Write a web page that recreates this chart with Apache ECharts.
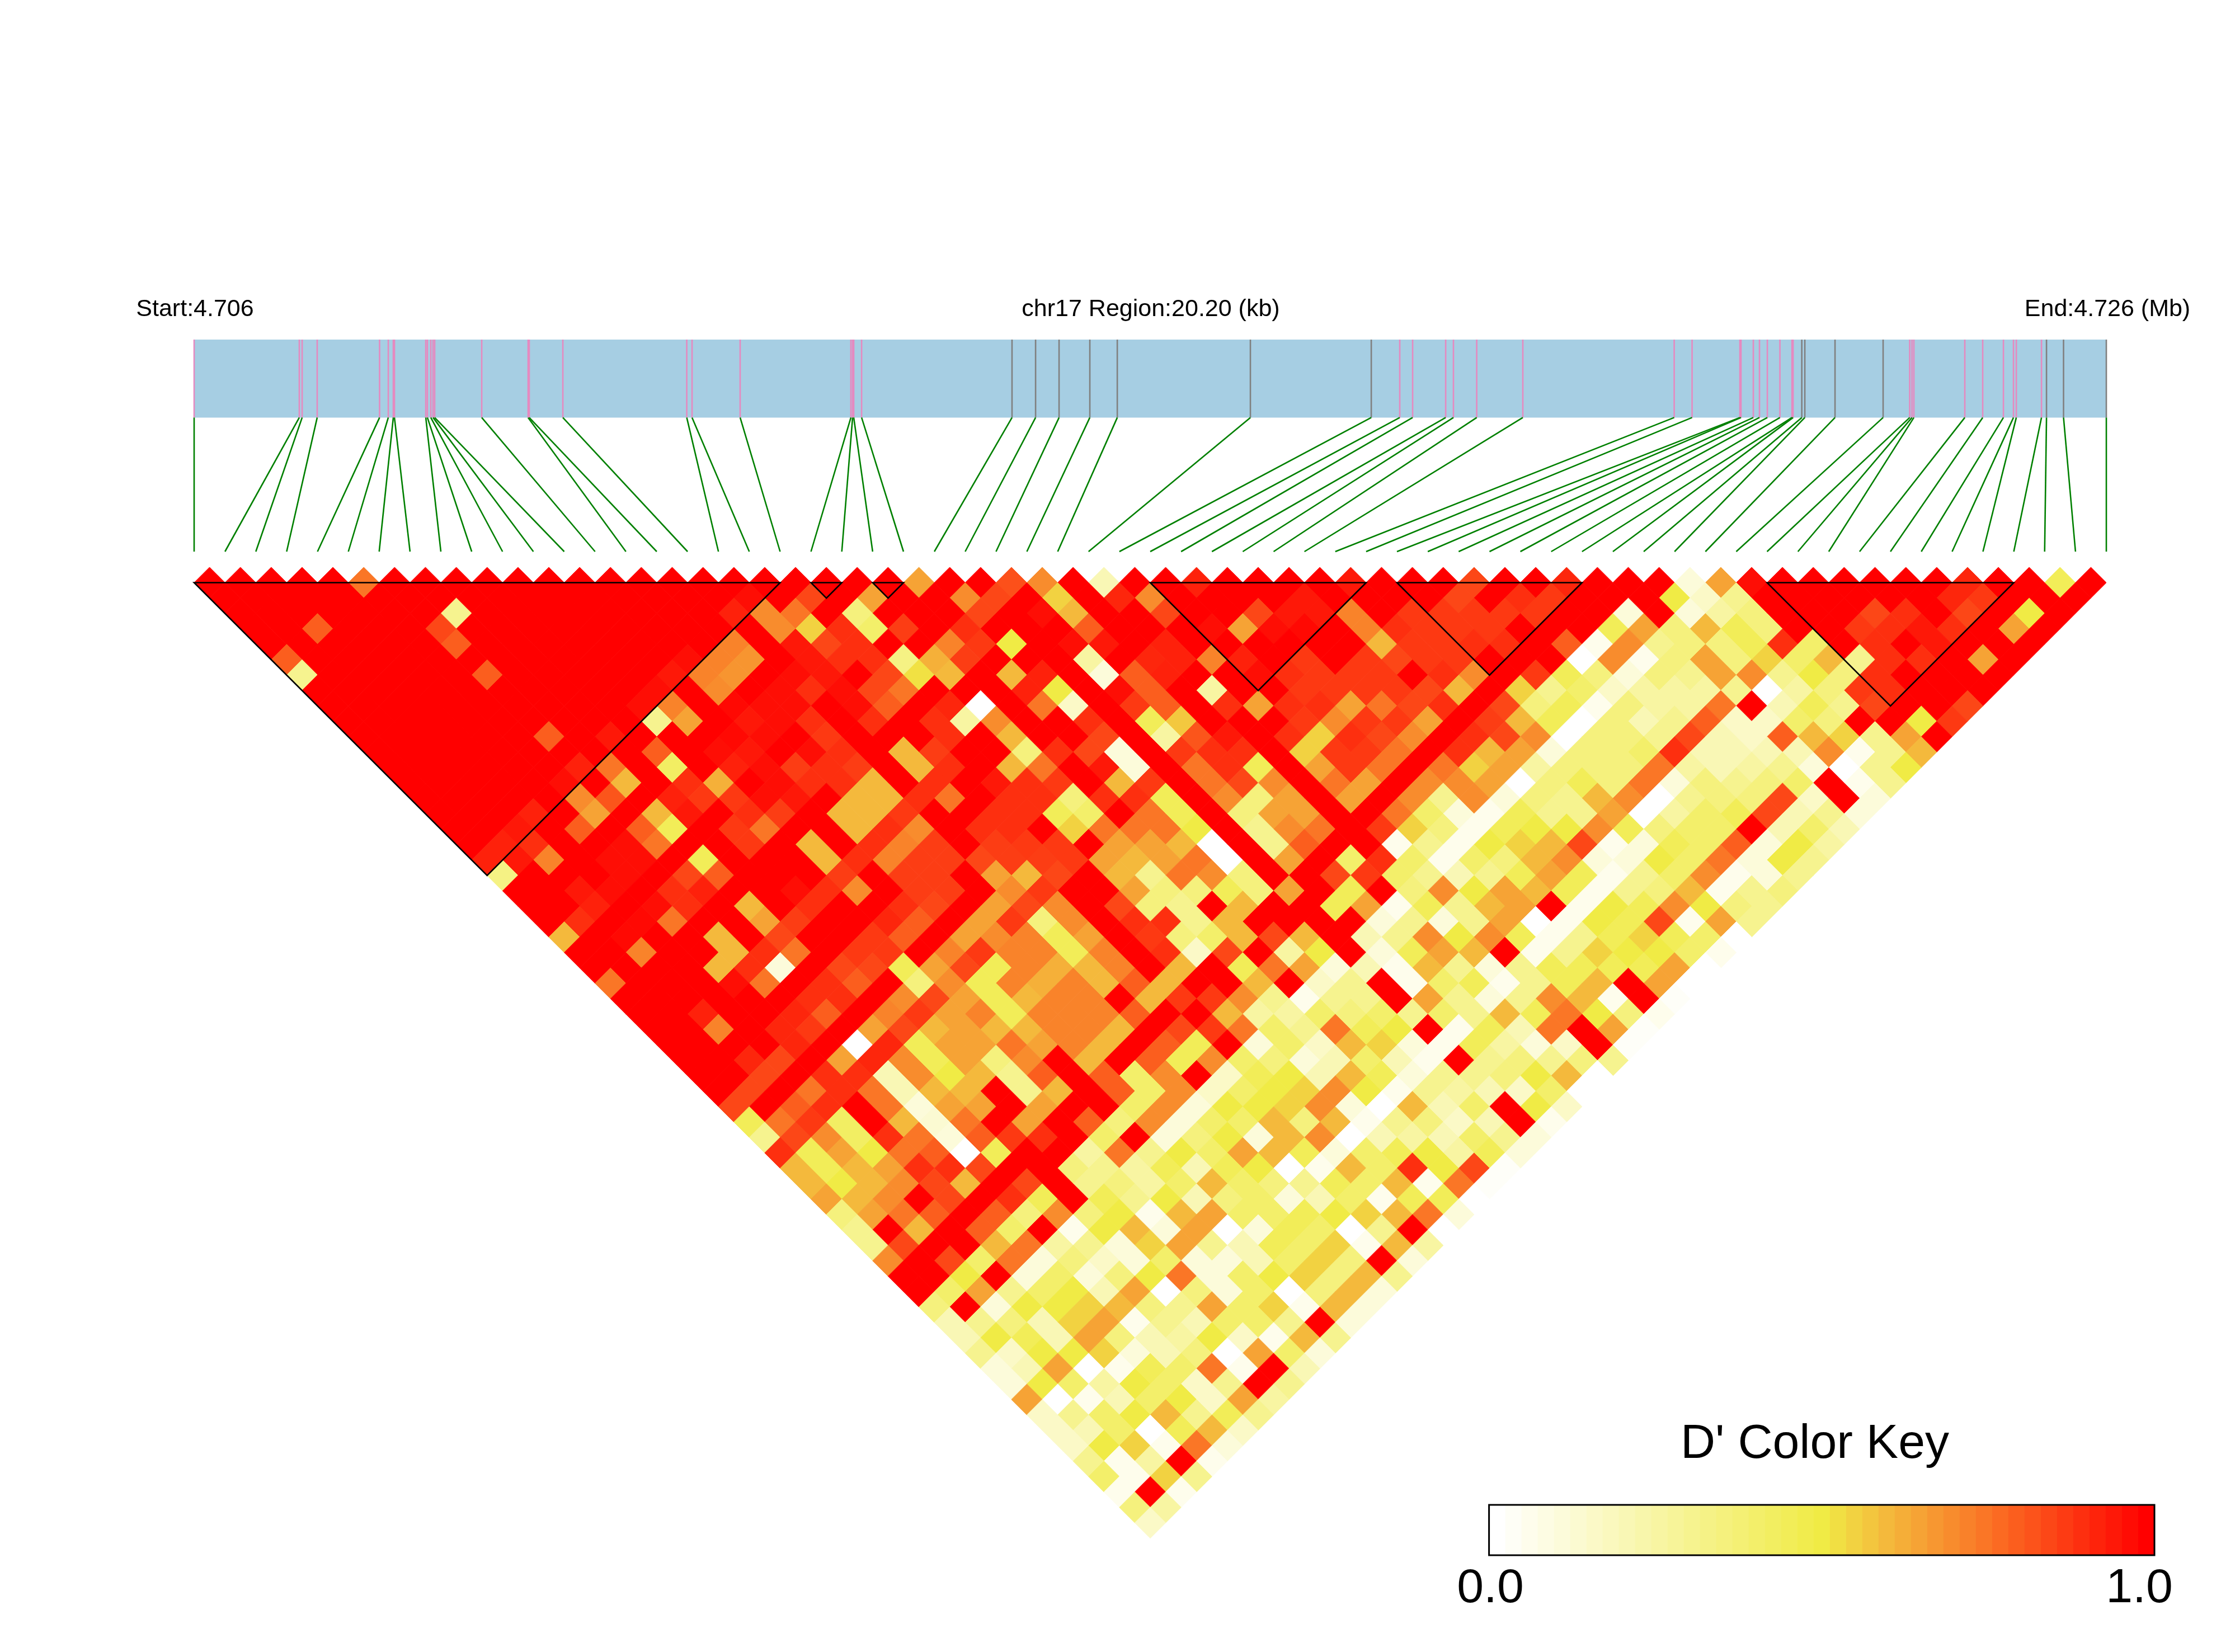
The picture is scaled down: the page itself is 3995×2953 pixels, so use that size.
<!DOCTYPE html>
<html><head><meta charset="utf-8">
<style>html,body{margin:0;padding:0;background:#fff}#c{width:3995px;height:2953px}</style>
<script src="https://cdn.jsdelivr.net/npm/echarts@6/dist/echarts.min.js"></script>
</head><body><div id="c"></div>
<script>
// D' x 10 for each SNP pair, one array per distance (j-i), ordered by first SNP i
const d01=[10,10,10,10,10,7.5,10,10,10,10,10,10,10,10,10,10,10,10,10,10,10,10,10,6.5,10,10,8.3,7,10,2,10,10,9.3,10,10,10,10,9.5,10,10,10,8.5,10,10,9.2,10,10,10,1,6.5,9.7,10,10,10,10,10,10,9.2,10,10,4.5,10];
const d02=[10,10,10,10,10,10,10,10,10,10,10,10,10,10,10,10,10,9.7,10,8.5,10,6.5,10,10,7,8.5,10,5.5,10,9.2,7,10,10,10,10,9.5,10,10,10,10,8.5,10,9,8.8,10,10,10,5,1.5,3,10,10,10,10,10,10,9.2,8.8,10,10,10];
const d03=[10,10,10,10,10,10,10,3,10,10,10,10,10,10,10,10,9.3,7,7.5,10,3.5,10,10,10,8.5,10,9.7,6,10,10,8.5,10,10,8.5,9.5,9.5,7.2,10,8.8,8.8,8.8,8.8,8.8,10,10,1,10,1,2.5,3.5,10,10,10,8.5,9,10,8.5,10,5,10];
const d04=[10,10,8,10,10,10,8.5,10,10,10,10,10,10,10,10,10,10,7,5.5,9,4,8.7,10,9,10,10,10,8,10,10,10,9.7,6.5,9.7,9.8,10,7.2,9,8.8,8.8,8.8,10,10,10,4.5,6.5,3.5,6,4.5,3.5,10,10,8.8,9,9.5,9,10,6.5,10];
const d05=[10,10,10,10,10,10,8,10,10,10,10,10,10,10,10,7.2,10,9.5,8.5,9,10,10,7.2,8.8,5,10,9.7,9.5,10,9.3,10,10,10,10,10,10,6,8.8,8.8,9,9,10,8,.5,7,3,3.5,3.5,4.5,9,4,10,9,10,9.5,10,10,10];
const d06=[8,10,10,10,10,10,10,10,10,10,10,10,10,9.7,7.2,6.8,10,9.5,9,9,3.3,6.2,8.7,10,10,10,2.5,10,9.2,9.3,7.2,9.3,10,8.8,10,8.8,8.5,8.8,8.8,10,10,10,0,7,.5,3.5,6.5,3.5,5.5,4,6,3,9,9,10,6.5,10];
const d07=[3,10,10,10,10,10,8,10,10,10,10,10,9.5,7.2,6.8,10,9.7,9.5,10,8.5,5.2,6,10,6,9.3,10,1,8,9.3,10,10,9.7,9,8.8,8.8,8.8,10,9,7,10,8.8,4.5,3.5,1,3.5,3,6.5,7,3,5,3.5,9,10,10,10,10];
const d08=[10,10,10,10,10,10,10,10,10,10,10,9.7,10,7,10,9.7,9,9.7,8.5,7.5,10,10,10,9.3,5,10,9.7,8,10,2.5,10,10,8.8,8.8,8.8,8.8,8.5,6,10,5.5,3,4,1.5,2.5,2.5,2.5,3,0,2.5,3.5,8.8,9,10,10,10];
const d09=[10,10,10,10,10,10,10,10,10,10,9.7,7.2,10,9.8,9.7,9.7,10,9.7,8,10,9.2,0,10,7.5,1.5,10,8.8,8,10,9,6.5,9,9,6.5,7.5,8.5,9,10,8.5,3.5,4.5,.5,3.5,2.5,2.5,7.5,10,2,4.5,3,8.5,10,10,8.5];
const d10=[10,10,10,10,10,10,10,10,10,10,3,6.5,10,9.5,9.7,9,10,9,10,9,2.5,7,10,10,9,10,4.5,5.7,10,10,10,8.8,7,8.8,8.8,6.5,10,8.7,6,4.5,0,3.5,2,3,8,1.5,1.5,4,3.5,10,10,5,8.8];
const d11=[10,10,10,10,10,10,8,10,9.5,10,10,10,9.8,9.7,10,8.8,10,10,10,9,10,6,10,10,8.5,10,2.5,8.2,9.5,10,9,5.5,9,8.5,7,10,9,8.5,7,0,3.5,3.5,3,8.5,2,1.5,8,6,5.5,3,6.5,10];
const d12=[10,10,10,10,10,10,10,10,10,8,10,9.7,9.5,10,9.7,9,10,6,8.7,10,10,3.5,9,8.5,1,10,8.8,9,9,10,5.5,8.8,8.8,7.5,10,9,6,6.5,1,3.5,3.5,4,9,2,2,2,2,7,.5,3,6];
const d13=[10,10,10,10,10,10,9.3,7.5,10,4.2,10,9.3,9.7,8.7,9,8.7,10,6,9,10,6,7.5,10,9.5,1,10,7.5,9,4.5,10,6.5,8.8,7.5,10,7.5,5.5,6.5,2.5,3.5,3.5,3.5,7.5,2.5,2,2.5,3,1,0,3,5];
const d14=[10,10,10,10,10,9.7,10,6,10,9,6.2,10,9.7,9,9,6,10,9,10,9.5,9,8.8,10,6,8.8,10,7.5,8.5,7,10,7.5,6.5,10,7,7,6.5,0,3.5,4.5,3.5,7.5,1,3.5,3,3.5,4,10,.5,3];
const d15=[10,10,10,10,10,7,8.2,10,9.3,8.8,8.8,9.7,9.5,10,6,6,9,7.5,10,9,9,3.5,9,9,4.5,10,7,3.5,6.5,10,6.5,10,7,3,7,1,3.5,3,6,7,0,3,3.5,3.5,8.5,1.5,10,1];
const d16=[10,10,10,9.3,10,6.5,10,6,9.5,10,9,8.7,10,6,6,8.8,10,10,9,9,4.5,4,10,7.5,4.5,10,3.5,6.5,6.5,10,10,7.5,4,1,.5,4.5,3,3,6.5,0,2.5,4,4.5,8.5,2,3,1];
const d17=[10,10,9.5,10,8,10,8,4.5,10,8.8,7.5,10,10,6,9,7,10,9,9,10,5.5,7.5,7.5,7.5,5,10,3,7,7.5,10,8.8,5.5,3.5,.5,4.5,5,5,7,4.5,3.5,4,4,10,2,4,2];
const d18=[10,9.3,9,10,10,9.7,7.5,10,10,8.8,10,6,10,9,7.2,8.7,10,8.7,8.8,8.8,10,6.5,6.5,6,0,10,3,8,10,10,.5,3,.5,5,5.5,6,8.5,.5,1,4.5,4,8,1,5,2.5];
const d19=[9.3,9.5,7.2,10,9.7,9.7,10,4.5,10,10,10,6,9,7.2,8.7,8.7,8.5,8.7,8.7,8.8,6.5,6,6.5,7.5,0,10,6.5,10,4,9,4,.5,4,3.5,6,7,1,1,5,4,7.5,1,5,3];
const d20=[3.3,10,10,10,9.7,10,8.5,8,10,10,10,8.7,10,8.7,8.7,10,6.5,6,8.5,10,6,3,7.5,7,3.5,10,10,8.5,8.8,4,3,2,3,4.5,6.5,4.5,.5,3,4,7,.5,1,3];
const d21=[10,10,9.5,9.7,10,9,9.3,10,10,9.7,9,7,10,8.7,8.7,10,7,8.8,10,10,6.5,3.5,3.5,4.5,3.5,6.5,10,4.5,10,3.5,7,5,6.5,6,4.5,.5,3,3.5,6,.5,3,3.5];
const d22=[10,10,9.3,10,9.7,9,10,6,10,9,10,10,9,8.5,10,6.5,8.5,7,10,8.5,3.5,3,10,6,10,10,4.5,6.5,.5,4.5,3,6,6.5,10,.5,5,4.5,7,5,3.5,3];
const d23=[10,9,10,9.8,7.5,10,10,6.5,8.7,10,10,9.2,8,10,6.5,8.8,3.5,7,10,9,9,3,6,10,10,10,10,1,3,1,3,6.5,0,.5,5,4.5,8.5,.5,6.5,3];
const d24=[6,10,9.8,10,10,6,10,8.5,10,10,8.8,8,10,6.5,7,7.2,4.5,6.5,10,8.8,3.5,4,6,8.5,6,10,2,3,7,5,7,4.5,.5,3,4.5,5.5,4.5,4,0];
const d25=[10,10,7.2,10,10,6,9,7.5,10,8.8,8.8,10,7.2,8.8,7.2,7.2,4.5,7.2,10,9,1.5,8.5,10,2.5,5,10,1,4.5,6.5,6,10,.5,3,5.5,5,5,4,.5];
const d26=[10,10,10,10,6,9,1,10,8.5,8.5,4.5,6.5,8.5,4.5,7.2,6.2,6,7.2,10,6,10,4.5,7.5,6.5,1,2,.5,6,3,1,3,4.5,4.5,4.5,4.5,6.5,0];
const d27=[7.5,10,10,10,9.7,7.5,10,9,8,10,3.5,7,4.5,7.2,6.2,7.2,6,8,6,10,10,6,10,1.5,3,10,.5,4,4.5,.5,3,4.5,6,10,6.5,0];
const d28=[10,10,10,10,10,10,9,9,10,7,8.5,6.5,4.5,6,7.2,7.2,10,6,8.8,8.8,7,3,.5,3,3,10,6.5,3,1,3,7,6,.5,10,.2];
const d29=[10,10,9.3,10,10,9.2,8,10,7.2,8.8,6.5,7.2,4.5,7.2,7.2,7.2,8,10,10,6,2.5,2.5,4,3.5,4,3,4,3,6,4.5,7.5,5,3.5,.5];
const d30=[10,10,7.2,10,9.2,8.8,10,6.5,8.5,6,6.5,6,6,7.2,7.2,6,10,8.5,8.8,7.5,4,3,7.5,4.5,5,10,.5,4.5,2,7.5,10,6.5,.2];
const d31=[10,10,10,10,9.2,10,0,9.2,4.5,6.5,6.5,7.5,6.5,7.2,6,10,8,4.5,10,1,4,1.5,6,5.5,1,.5,4.5,2.5,1,1.5,10,.2];
const d32=[10,10,9.2,8.5,10,6.5,9.2,7,4.5,6.5,3.5,7,10,6,10,8,4.5,7,4,3.5,1,2,4,2,.5,10,3,3.5,3,3.5,3];
const d33=[10,10,8.5,10,9,9,2,7,5,6,3,8,10,8,4,7,10,1.5,4.5,5,2,6,4.5,1,3,3,3.5,5,6,0];
const d34=[10,8.5,10,7.5,9,7.5,2,6,6,10,3,6,10,8,4,7,1.5,4,5,5.5,7,5,.5,3,2.5,2,1.5,4,0];
const d35=[8.5,10,8,9,10,7.5,1,6.5,6.5,10,6.5,10,10,4,7,1,5,5,5.5,7,1,0,6,2,4,10,5,1.5];
const d36=[4.5,7.5,8.8,4.2,10,6,1.2,7.5,10,6.5,10,8,3.5,7,1,4,4,6,3.5,6,.5,3,3.5,1.5,2,10,.5];
const d37=[3,8.5,7,4.2,9,7.5,1,8,8.8,9,10,4,10,1,3.5,5,1,6,7,0,2,2.5,2,4,3,1];
const d38=[9,4.5,6.5,5,7.5,8,0,4.5,10,10,2.5,7.5,3,5,4,6.5,6,4.5,1,4,4.5,5,2.5,4.5,1];
const d39=[6,4.5,6,6.5,9,9,8.5,10,10,3.5,3,2.5,4.5,2,4.5,5,0,.5,6,4,9,5,8.5,.2];
const d40=[6,5,6,7,8.5,6,10,8.5,10,3,3.5,2.5,4,6,4,3.5,3,4.5,4,6,.5,7.5,.2];
const d41=[6.5,6,7,10,8.5,10,9,4.5,10,4.5,3,5,2,3.5,4,1,2,4,.5,4.5,4.5,0];
const d42=[3.5,6.5,7.5,8,10,8,3.5,7,3.5,5,.5,6,6.5,4,4,4.5,5,5.5,6,7.5,1];
const d43=[3,10,6,10,8,4,10,.5,5,6,1,6.5,0,1,4.5,4,0,3,10,0];
const d44=[3,8.5,10,10,6,7.5,2.5,3,1,5.5,6.5,3,2,4.5,4,5.5,.5,6,2.5];
const d45=[7,10,8.5,4,7.5,1,3.5,1.5,1,4,1,1,2,4,5.5,3.5,10,1];
const d46=[10,10,5,10,1,4,1,3.5,5,7.5,1,4,5,5.5,3.5,6,3];
const d47=[10,4,6.5,3,4,5,2,6.5,0,3.5,1,4,0,3.5,6,1];
const d48=[3.5,10,1,5,5,5.5,6,3.5,3,6.5,4,5.5,.5,6,1];
const d49=[2,3,3.5,2,5.5,6.5,.5,3,2,4,4,3,10,1];
const d50=[2,5,4.5,2,6.5,3.5,2,2.5,5,1.5,.5,6,3];
const d51=[3,1.5,5,5,5.5,1,2,3.5,0,6.5,4,1];
const d52=[1,2,6.5,0,.5,4.5,4,7.5,.5,10,2];
const d53=[1,5,4,2.5,5,4,1.5,3,10,3];
const d54=[6.5,0,.5,2,4,5,1.5,6.5,2.5];
const d55=[1.5,3,4,5,6,3,4.5,3];
const d56=[1.5,2,4,0,4.5,6,1.5];
const d57=[1.5,5,5.5,.5,7.5,1];
const d58=[3,.5,2.5,10,.5];
const d59=[4,.5,5.5,3];
const d60=[.5,10,.5];
const d61=[3.5,2.5];
const d62=[1.5];
const rows=[d01,d02,d03,d04,d05,d06,d07,d08,d09,d10,d11,d12,d13,d14,d15,d16,d17,d18,d19,d20,d21,d22,d23,d24,d25,d26,d27,d28,d29,d30,d31,d32,d33,d34,d35,d36,d37,d38,d39,d40,d41,d42,d43,d44,d45,d46,d47,d48,d49,d50,d51,d52,d53,d54,d55,d56,d57,d58,d59,d60,d61,d62];

// SNP positions in kb from region start, and whether each is drawn pink (0) or grey (1)
const snpKb=[0,1.111,1.141,1.3,1.959,2.051,2.104,2.116,2.447,2.464,2.5,2.524,2.541,3.038,3.528,3.54,3.895,5.204,5.26,5.768,6.938,6.956,6.968,7.051,8.64,8.889,9.137,9.462,9.752,11.158,12.435,12.736,12.872,13.221,13.303,13.549,14.036,15.635,15.824,16.329,16.341,16.471,16.536,16.619,16.752,16.879,16.891,16.983,17.015,17.334,17.842,18.123,18.147,18.167,18.705,18.894,19.113,19.219,19.249,19.515,19.568,19.748,20.2];
const snpTone=[0,0,0,0,0,0,0,0,0,0,0,0,0,0,0,0,0,0,0,0,0,0,0,0,1,1,1,1,1,1,1,0,0,0,0,0,0,0,0,0,0,0,0,0,0,0,0,1,1,1,1,0,0,0,0,0,0,0,0,0,1,1,1];
// LD blocks as first and last SNP index
const blocks=[[0,19],[20,21],[22,23],[31,38],[39,45],[51,59]];
const keyBinCount=41;
const keyLabels=['0.0','1.0'];
const regionKb=20.2, snpCount=63;

const stops=[[0,[255,255,255]],[.5,[240,235,69]],[.6,[244,185,60]],[.75,[250,118,38]],[1,[255,0,0]]];
function colorOf(v){
  for(let k=1;k<stops.length;k++){
    if(v<=stops[k][0]){
      const a=stops[k-1],b=stops[k],t=(v-a[0])/(b[0]-a[0]);
      return 'rgb('+a[1].map((c,n)=>Math.round(c+(b[1][n]-c)*t)).join(',')+')';
    }
  }
  return 'rgb(255,0,0)';
}
const cells=[];
rows.forEach((r,k)=>{const d=k+1;r.forEach((v,i)=>cells.push([i+d/2,d,v/10]));});
const keyData=[];for(let k=0;k<keyBinCount;k++)keyData.push([k,k/(keyBinCount-1)]);

const font='"Liberation Sans",Arial,sans-serif';
function label(text,x,y,size){return {type:'text',x:x,y:y,style:{text:text,fontFamily:font,fontSize:size,fill:'#000',textAlign:'center',textVerticalAlign:'middle'}};}

const chart=echarts.init(document.getElementById('c'),null,{renderer:'canvas',width:3995,height:2953});
chart.setOption({
  animation:false,backgroundColor:'#fff',
  grid:[
    {left:347,width:3418,top:1013.95,height:1735.65},
    {left:347,width:3418,top:607,height:379},
    {left:2661.6,width:1189.4,top:2690,height:90}
  ],
  xAxis:[
    {type:'value',gridIndex:0,min:0,max:62,show:false},
    {type:'value',gridIndex:1,min:0,max:regionKb,show:false},
    {type:'value',gridIndex:2,min:0,max:keyBinCount,show:false}
  ],
  yAxis:[
    {type:'value',gridIndex:0,min:0,max:63,inverse:true,show:false},
    {type:'value',gridIndex:1,min:0,max:379,inverse:true,show:false},
    {type:'value',gridIndex:2,min:0,max:1,show:false}
  ],
  graphic:[
    label('Start:4.706',348.5,553,43),
    label('chr17 Region:20.20 (kb)',2057,553,43),
    label('End:4.726 (Mb)',3767,553,43),
    label("D' Color Key",3244,2582,86),
    label(keyLabels[0],2664,2840,86),
    label(keyLabels[1],3824,2840,86)
  ],
  series:[
    {type:'custom',xAxisIndex:0,yAxisIndex:0,data:cells,clip:false,silent:true,z:2,
      renderItem:function(p,api){
        const x=api.value(0),d=api.value(1),v=api.value(2);
        const col=colorOf(v);
        return {type:'polygon',shape:{points:[api.coord([x-.5,d]),api.coord([x,d-1]),api.coord([x+.5,d]),api.coord([x,d+1])]},
          style:{fill:col,stroke:col,lineWidth:1}};
      }},
    {type:'custom',xAxisIndex:0,yAxisIndex:0,data:blocks,clip:false,silent:true,z:3,
      renderItem:function(p,api){
        const a=api.value(0),b=api.value(1);
        return {type:'polygon',shape:{points:[api.coord([a,1]),api.coord([b,1]),api.coord([(a+b)/2,1+b-a])]},
          style:{fill:'none',stroke:'#000',lineWidth:2.6}};
      }},
    {type:'custom',xAxisIndex:1,yAxisIndex:1,data:[[0,regionKb]],clip:false,silent:true,z:2,
      renderItem:function(p,api){
        const a=api.coord([api.value(0),0]),b=api.coord([api.value(1),139.4]);
        return {type:'rect',shape:{x:a[0],y:a[1],width:b[0]-a[0],height:b[1]-a[1]},style:{fill:'#A6CEE3'}};
      }},
    {type:'custom',xAxisIndex:1,yAxisIndex:1,data:snpKb.map((k,i)=>[k,i,snpTone[i]]),clip:false,silent:true,z:3,
      renderItem:function(p,api){
        const k=api.value(0),i=api.value(1),tone=api.value(2);
        const a=api.coord([k,0]),b=api.coord([k,139.4]),c=api.coord([i/(snpCount-1)*regionKb,379]);
        return {type:'group',children:[
          {type:'line',shape:{x1:a[0],y1:a[1],x2:b[0],y2:b[1]},style:{stroke:tone?'#808080':'#E58AC0',lineWidth:2.6}},
          {type:'line',shape:{x1:b[0],y1:b[1],x2:c[0],y2:c[1]},style:{stroke:'#008000',lineWidth:2.6}}
        ]};
      }},
    {type:'custom',xAxisIndex:2,yAxisIndex:2,data:keyData,clip:false,silent:true,z:2,
      renderItem:function(p,api){
        const k=api.value(0),v=api.value(1);
        const a=api.coord([k,1]),b=api.coord([k+1,0]);
        const col=colorOf(v);
        return {type:'rect',shape:{x:a[0],y:a[1],width:b[0]-a[0]+.4,height:b[1]-a[1]},style:{fill:col}};
      }},
    {type:'custom',xAxisIndex:2,yAxisIndex:2,data:[[0,keyBinCount]],clip:false,silent:true,z:3,
      renderItem:function(p,api){
        const a=api.coord([api.value(0),1]),b=api.coord([api.value(1),0]);
        return {type:'rect',shape:{x:a[0],y:a[1],width:b[0]-a[0],height:b[1]-a[1]},style:{fill:'none',stroke:'#000',lineWidth:3}};
      }}
  ]
});
</script></body></html>
